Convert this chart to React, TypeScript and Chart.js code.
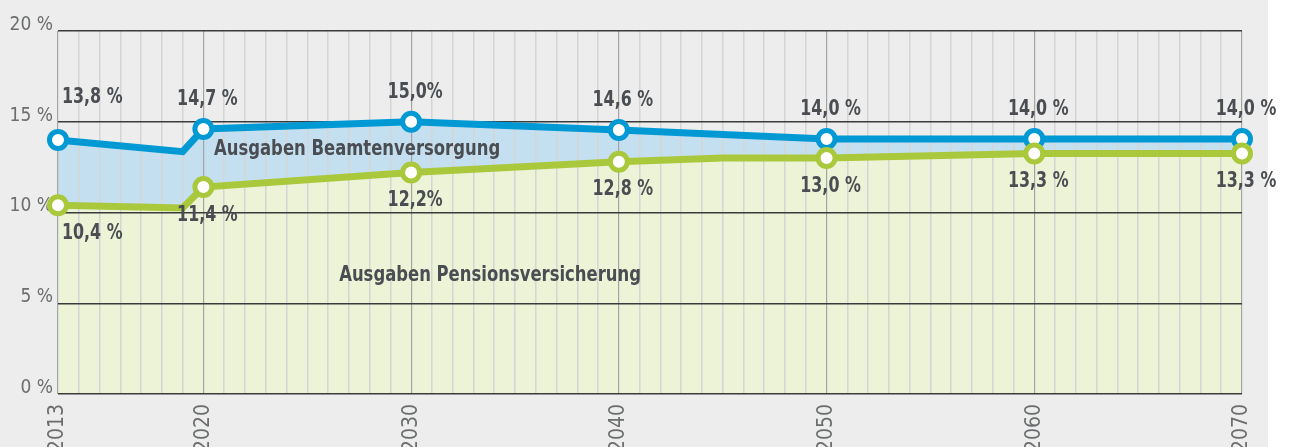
import { useEffect, useRef } from 'react';
import { Chart, registerables } from 'chart.js';

Chart.register(...registerables);

// ---- data ----
const markerYears = [2013, 2020, 2030, 2040, 2050, 2060, 2070];
const beamtenYears = [2013, 2019, 2020, 2030, 2040, 2050, 2060, 2070];
const beamtenValues = [14.0, 13.35, 14.6, 15.0, 14.55, 14.05, 14.05, 14.05];
const pensionYears = [2013, 2019, 2020, 2030, 2040, 2045, 2050, 2060, 2070];
const pensionValues = [10.4, 10.25, 11.4, 12.2, 12.8, 13.0, 13.0, 13.25, 13.25];
const beamtenLabels = ['13,8 %', '14,7 %', '15,0%', '14,6 %', '14,0 %', '14,0 %', '14,0 %'];
const pensionLabels = ['10,4 %', '11,4 %', '12,2%', '12,8 %', '13,0 %', '13,3 %', '13,3 %'];
const yTickValues = [0, 5, 10, 15, 20];
const areaNames = ['Ausgaben Beamtenversorgung', 'Ausgaben Pensionsversicherung'];

const FONT = '"Liberation Sans Narrow", "DejaVu Sans Condensed", "Liberation Sans", sans-serif';
const BLUE = '#0099d4';
const GREEN = '#aac83c';
const BLUE_FILL = '#c4dff0';
const GREEN_FILL = '#edf3d7';
const TEXT_DARK = '#4a4d51';
const TEXT_GREY = '#6b6d6f';

function condensedText(ctx: any, text: string, x: number, y: number, align: string, sx: number) {
  ctx.save();
  ctx.translate(x, y);
  ctx.scale(sx, 1);
  ctx.textAlign = align;
  ctx.fillText(text, 0, 0);
  ctx.restore();
}

const labelPlugin = {
  id: 'valueLabels',
  afterDatasetsDraw(chart: any) {
    const { ctx } = chart;
    const xs = chart.scales.x;
    const ys = chart.scales.y;
    ctx.save();
    ctx.fillStyle = TEXT_DARK;
    ctx.font = `bold 21px ${FONT}`;
    ctx.textBaseline = 'middle';
    markerYears.forEach((yr, i) => {
      const x = xs.getPixelForValue(yr);
      const bY = ys.getPixelForValue(beamtenValues[beamtenYears.indexOf(yr)]);
      const pY = ys.getPixelForValue(pensionValues[pensionYears.indexOf(yr)]);
      const first = i === 0;
      const align = first ? 'left' : 'center';
      const lx = first ? x + 4 : x + 4;
      condensedText(ctx, beamtenLabels[i], lx, bY - (first ? 42 : 29), align, 0.84);
      condensedText(ctx, pensionLabels[i], lx, pY + 28, align, 0.84);
    });
    // area names
    condensedText(ctx, areaNames[0], xs.getPixelForValue(2027.4), ys.getPixelForValue(13.45), 'center', 0.87);
    condensedText(ctx, areaNames[1], xs.getPixelForValue(2033.8), ys.getPixelForValue(6.55), 'center', 0.87);
    ctx.restore();
  },
};

export default function App() {
  const ref = useRef<HTMLCanvasElement | null>(null);

  useEffect(() => {
    if (!ref.current) return;
    const pointR = (ctx: any) => (markerYears.includes(ctx.raw?.x) ? 8.5 : 0);
    const chart = new Chart(ref.current, {
      type: 'line',
      data: {
        datasets: [
          {
            label: 'Ausgaben Pensionsversicherung',
            data: pensionYears.map((x, i) => ({ x, y: pensionValues[i] })),
            borderColor: GREEN,
            backgroundColor: GREEN_FILL,
            borderWidth: 7,
            fill: 'origin',
            tension: 0,
            pointRadius: pointR,
            pointHoverRadius: pointR,
            pointBackgroundColor: '#ffffff',
            pointBorderColor: GREEN,
            pointBorderWidth: 5,
            clip: false,
          },
          {
            label: 'Ausgaben Beamtenversorgung',
            data: beamtenYears.map((x, i) => ({ x, y: beamtenValues[i] })),
            borderColor: BLUE,
            backgroundColor: BLUE_FILL,
            borderWidth: 7,
            fill: 'origin',
            tension: 0,
            pointRadius: pointR,
            pointHoverRadius: pointR,
            pointBackgroundColor: '#ffffff',
            pointBorderColor: BLUE,
            pointBorderWidth: 5,
            clip: false,
          },
        ],
      } as any,
      options: {
        responsive: false,
        maintainAspectRatio: false,
        devicePixelRatio: 1,
        animation: false,
        layout: { padding: { top: 31, right: 50, bottom: 0, left: 0 } },
        plugins: {
          legend: { display: false },
          tooltip: { enabled: false },
          filler: { drawTime: 'beforeDraw' },
        } as any,
        scales: {
          x: {
            type: 'linear',
            min: 2013,
            max: 2070,
            border: { display: false },
            afterFit: (s: any) => {
              s.height = 76;
            },
            afterBuildTicks: (s: any) => {
              const t = [];
              for (let y = 2013; y <= 2070; y++) t.push({ value: y });
              s.ticks = t;
            },
            grid: {
              drawTicks: false,
              color: (c: any) => (markerYears.includes(c.tick?.value) ? '#a4a5a5' : '#d4d5d4'),
              lineWidth: (c: any) => (markerYears.includes(c.tick?.value) ? 1.2 : 1.5),
            },
            ticks: {
              autoSkip: false,
              maxRotation: 90,
              minRotation: 90,
              padding: 10,
              color: TEXT_GREY,
              font: { family: FONT, size: 21 },
              callback: (v: any) => (markerYears.includes(v) ? String(v) : ''),
            },
          },
          y: {
            type: 'linear',
            min: 0,
            max: 20,
            border: { display: false },
            afterFit: (s: any) => {
              s.width = 58;
            },
            afterBuildTicks: (s: any) => {
              s.ticks = yTickValues.map((v) => ({ value: v }));
            },
            grid: {
              drawTicks: false,
              color: '#3a3b3b',
              lineWidth: 1.5,
            },
            ticks: {
              padding: 5,
              labelOffset: -6,
              color: TEXT_GREY,
              font: { family: FONT, size: 19 },
              callback: (v: any) => `${v} %`,
            },
          },
        },
      } as any,
      plugins: [labelPlugin],
    });
    return () => chart.destroy();
  }, []);

  return (
    <div
      style={{
        position: 'absolute',
        left: 0,
        top: 0,
        width: 1292,
        height: 447,
        overflow: 'hidden',
        background: '#ffffff',
      }}
    >
      <div
        style={{ position: 'absolute', left: 0, top: 0, width: 1268, height: 447, background: '#ecedec' }}
      />
      <canvas
        ref={ref}
        width={1292}
        height={470}
        style={{ position: 'absolute', left: 0, top: 0, width: 1292, height: 470 }}
      />
    </div>
  );
}
